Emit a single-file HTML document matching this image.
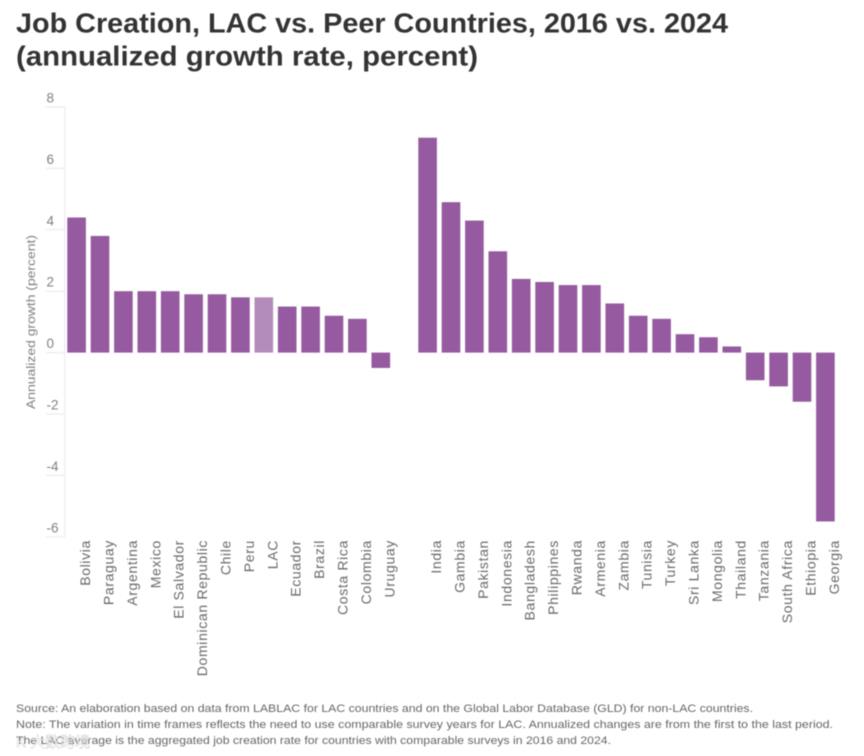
<!DOCTYPE html>
<html lang="en">
<head>
<meta charset="utf-8">
<title>Job Creation, LAC vs. Peer Countries</title>
<style>
html,body{margin:0;padding:0;background:#fff;width:864px;height:756px;overflow:hidden}
svg{display:block;font-family:"Liberation Sans","Noto Sans CJK SC",sans-serif;filter:blur(0.45px)}
</style>
</head>
<body>
<svg id="chart" xmlns="http://www.w3.org/2000/svg" width="864" height="756" viewBox="0 0 864 756">
<rect width="864" height="756" fill="#ffffff"/>
<text x="16" y="32.5" font-size="28" font-weight="700" fill="#333333" textLength="712" lengthAdjust="spacingAndGlyphs">Job Creation, LAC vs. Peer Countries, 2016 vs. 2024</text>
<text x="16" y="65.5" font-size="28" font-weight="700" fill="#333333" textLength="462" lengthAdjust="spacingAndGlyphs">(annualized growth rate, percent)</text>
<g id="axis"></g>
<g id="bars"></g>
<g id="labels"></g>
<text transform="translate(35,322) rotate(-90)" text-anchor="middle" font-size="11.5" fill="#808080" textLength="174" lengthAdjust="spacingAndGlyphs">Annualized growth (percent)</text>
<text x="16" y="712" font-size="11" fill="#666666" textLength="737" lengthAdjust="spacingAndGlyphs">Source: An elaboration based on data from LABLAC for LAC countries and on the Global Labor Database (GLD) for non-LAC countries.</text>
<text x="16" y="728" font-size="11" fill="#666666" textLength="817" lengthAdjust="spacingAndGlyphs">Note: The variation in time frames reflects the need to use comparable survey years for LAC. Annualized changes are from the first to the last period.</text>
<text x="16" y="744" font-size="11" fill="#666666" textLength="595" lengthAdjust="spacingAndGlyphs">The LAC average is the aggregated job creation rate for countries with comparable surveys in 2016 and 2024.</text>
<text x="16" y="747" font-size="15" fill="#ffffff" fill-opacity="0.85" stroke="#aaaaaa" stroke-width="0.25">K 大数跨境</text>
</svg>
<script>
const categories = ["Bolivia","Paraguay","Argentina","Mexico","El Salvador","Dominican Republic","Chile","Peru","LAC","Ecuador","Brazil","Costa Rica","Colombia","Uruguay","","India","Gambia","Pakistan","Indonesia","Bangladesh","Philippines","Rwanda","Armenia","Zambia","Tunisia","Turkey","Sri Lanka","Mongolia","Thailand","Tanzania","South Africa","Ethiopia","Georgia"];
const growthValues = [4.4,3.8,2.0,2.0,2.0,1.9,1.9,1.8,1.8,1.5,1.5,1.2,1.1,-0.5,null,7.0,4.9,4.3,3.3,2.4,2.3,2.2,2.2,1.6,1.2,1.1,0.6,0.5,0.2,-0.9,-1.1,-1.6,-5.5];
const tickValues = [8,6,4,2,0,-2,-4,-6];
const highlightCategory = "LAC";

const NS = "http://www.w3.org/2000/svg";
const yZero = 352.6, yPerUnit = 30.7;
const xStart = 67.3, xStep = 23.4, barWidth = 18.6;
function yScale(v) { return yZero - v * yPerUnit; }
function xScale(i) { return xStart + i * xStep; }
function make(tag, attrs, parent) {
  const el = document.createElementNS(NS, tag);
  for (const k in attrs) el.setAttribute(k, attrs[k]);
  parent.appendChild(el);
  return el;
}
const axisG = document.getElementById("axis");
const barsG = document.getElementById("bars");
const labelsG = document.getElementById("labels");

const axisLine = make("line", {x1: 64.7, x2: 64.7, y1: yScale(tickValues[0]), y2: yScale(tickValues[tickValues.length - 1]), stroke: "#ececec", "stroke-width": 1.2}, axisG);



tickValues.forEach(function (t) {
  const tick = make("line", {x1: 46, x2: 65, y1: yScale(t), y2: yScale(t), stroke: "#ececec", "stroke-width": 1.2}, axisG);
  
  
  const lab = make("text", {x: 46.5, y: yScale(t) - 4.5, "font-size": 13.5, fill: "#808080"}, axisG);
  
  
  lab.textContent = String(t);
});

categories.forEach(function (name, i) {
  const v = growthValues[i];
  if (v === null || name === "") return;
  const top = Math.min(yScale(v), yScale(0));
  const h = Math.abs(yScale(v) - yScale(0));
  const bar = make("rect", {x: xScale(i), y: top, width: barWidth, height: h, fill: name === highlightCategory ? "#b48cbb" : "#955a9f"}, barsG);
  
  
  const px = xScale(i) + barWidth / 2 + 13.5;
  const lab = make("text", {transform: "translate(" + px + ",540) rotate(-90)", "text-anchor": "end", "font-size": 14, "letter-spacing": "0.65", fill: "#6a6a6a"}, labelsG);
  
  
  lab.textContent = name;
});
</script>
</body>
</html>
